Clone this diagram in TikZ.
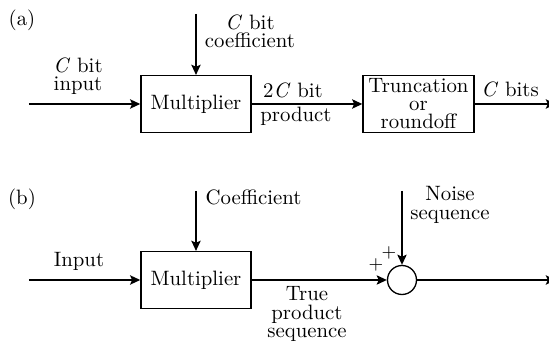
\documentclass[tikz,border=0pt]{standalone}
\usetikzlibrary{arrows.meta}
\begin{document}
\begin{tikzpicture}[
    x=0.01725cm, y=-0.01725cm,
    line width=0.65pt,
    box/.style={draw, minimum width=1.9cm, minimum height=0.98cm, align=center,
        inner sep=1pt, font={\fontsize{10.2}{8.8}\selectfont}},
    sum/.style={draw, circle, minimum size=0.5cm, inner sep=0pt},
    arr/.style={-{Stealth[length=5pt, width=4.6pt, inset=1pt]}},
    lbl/.style={align=center, inner sep=0pt, font={\fontsize{10.2}{9}\selectfont}},
    pm/.style={inner sep=0pt, font=\small},
]
\useasboundingbox (0,0) rectangle (549,343);

% (a) finite word length multiplication
\node[lbl] (tag a) at (22,20) {(a)};
\coordinate (in a)   at (29,104);
\coordinate (coef a) at (196,14);
\coordinate (out a)  at (556,104);
\node[box] (mul a) at (196,104) {Multiplier};
\node[box, minimum width=1.915cm] (trunc) at (418.5,104) {Truncation\\or\\roundoff};

\draw[arr] (in a) -- (mul a.west);
\draw[arr] (coef a) -- (mul a.north);
\draw[arr] (mul a.east) -- (trunc.west);
\draw[arr] (trunc.east) -- (out a);

\node[lbl] (lin a)     at (78,76)  {\textit{C} bit\\input};
\node[lbl] (lcoef a)   at (250,31) {\textit{C} bit\\coefficient};
\node[lbl] (lprod top) at (293,90) {2\textit{C} bit};
\node[lbl] (lprod bot) at (296,116) {product};
\node[lbl] (lout a)    at (510,89) {\textit{C} bits};

% (b) additive noise model
\node[lbl] (tag b) at (22,199) {(b)};
\coordinate (in b)   at (29,280);
\coordinate (coef b) at (196,191);
\coordinate (noise)  at (402,191);
\coordinate (out b)  at (556,280);
\node[box] (mul b) at (196,280) {Multiplier};
\node[sum] (add) at (402,280) {};

\draw[arr] (in b) -- (mul b.west);
\draw[arr] (coef b) -- (mul b.north);
\draw[arr] (mul b.east) -- (add.west);
\draw[arr] (noise) -- (add.north);
\draw[arr] (add.east) -- (out b);

\node[lbl] (lin b) at (79,261) {Input};
\node[lbl, anchor=west] (lcoef b) at (205,197) {Coefficient};
\node[lbl] (lnoise) at (450,205) {Noise\\sequence};
\node[lbl] (ltrue) at (307,314) {True\\product\\sequence};
\node[pm] (plus in)    at (376,265) {+};
\node[pm] (plus noise) at (389,253) {+};

\end{tikzpicture}
\end{document}
